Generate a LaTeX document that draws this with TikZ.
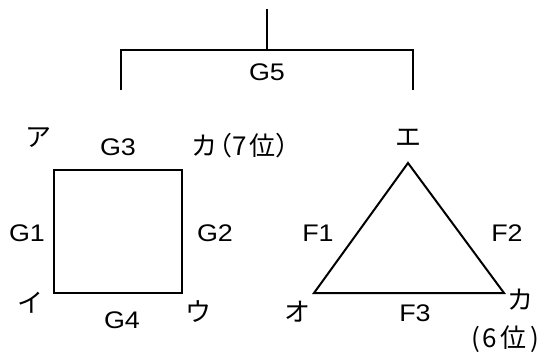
\documentclass[tikz,border=0pt]{standalone}
\usepackage{fontspec}
\setmainfont{Liberation Sans}[FakeStretch=1.12]
\newfontfamily\jp{Noto Sans CJK JP}
\begin{document}
\begin{tikzpicture}[x=1pt,y=-1pt,
  edge/.style={line width=2pt,line cap=rect},
  lbl/.style={font=\fontsize{24}{26}\selectfont,inner sep=0pt},
  jlbl/.style={font=\fontsize{26}{28}\selectfont\jp,inner sep=0pt}]
\useasboundingbox (0,0) rectangle (547,356);
% bracket
\coordinate (top) at (267,10);
\coordinate (mid) at (267,50);
\coordinate (bl) at (121,50);
\coordinate (br) at (413,50);
\coordinate (bld) at (121,90);
\coordinate (brd) at (413,90);
\draw[edge] (top) -- (mid);
\draw[edge,line cap=butt] (bld) -- (bl) -- (br) -- (brd);
\node[lbl] (g5) at (267,72) {G5};
% square
\coordinate (sa) at (54,170);
\coordinate (sk) at (182,170);
\coordinate (su) at (182,293);
\coordinate (si) at (54,293);
\draw[edge] (sa) -- (sk) -- (su) -- (si) -- cycle;
\node[jlbl] (a) at (38,138) {ア};
\node[lbl] (g3) at (118,147) {G3};
\node[jlbl,anchor=west] (ka7) at (191,146) {カ\kern-0.4em（7\kern0.1em 位）\kern-0.45em};
\node[lbl] (g1) at (27,233) {G1};
\node[lbl] (g2) at (215,233) {G2};
\node[jlbl] (i) at (30,303) {イ};
\node[lbl] (g4) at (122,320) {G4};
\node[jlbl] (u) at (198,312) {ウ};
% triangle
\coordinate (te) at (408,163);
\coordinate (to) at (314,293);
\coordinate (tk) at (504,293);
\draw[edge,line join=miter] (te) -- (tk) -- (to) -- cycle;
\node[jlbl] (e) at (408,138) {エ};
\node[lbl] (f1) at (318,233) {F1};
\node[lbl] (f2) at (507,233) {F2};
\node[jlbl] (o) at (297,312) {オ};
\node[lbl] (f3) at (415,313) {F3};
\node[jlbl] (ka) at (520,300) {カ};
\node[jlbl,anchor=west] (rank6) at (471,339) {(\kern3pt 6\kern3pt 位\kern4pt)};
\end{tikzpicture}
\end{document}
